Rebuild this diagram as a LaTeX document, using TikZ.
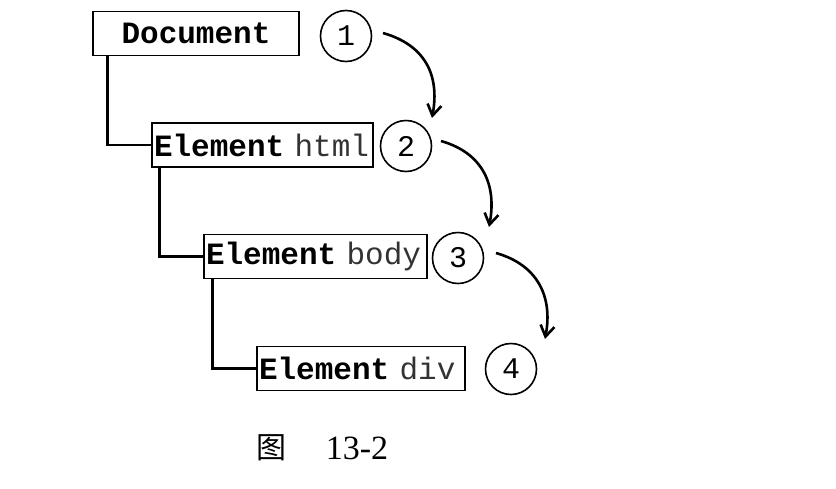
\documentclass[tikz,border=0pt]{standalone}
\usepackage{fontspec}
\setmainfont{Liberation Serif}
\setmonofont{Liberation Mono}
\newfontfamily\cjk{Noto Sans CJK SC}
\usetikzlibrary{arrows.meta}
\begin{document}
\begin{tikzpicture}[x=1pt,y=-1pt,
  elbox/.style={draw,line width=1.8pt,inner xsep=2pt,inner ysep=0pt,minimum height=44pt,align=left,font=\fontsize{31}{34}\selectfont\ttfamily},
  docbox/.style={draw,line width=1.8pt,inner sep=0pt,minimum height=44pt,font=\fontsize{31}{34}\selectfont\ttfamily},
  num/.style={draw,circle,line width=1.6pt,minimum size=51pt,inner sep=0pt,font=\fontsize{30}{34}\selectfont\ttfamily},
  tree/.style={line width=2.8pt},
  flow/.style={line width=2.6pt,-{Straight Barb[length=11pt,width=14pt,line width=2.6pt]}}]
\useasboundingbox (0,0) rectangle (836,488);
\node[docbox,minimum width=206pt] (doc) at (196,33.5) {\textbf{Document}};
\node[elbox,text width=217pt] (html) at (262.5,145) {\textbf{Element} {\color{black!80}html}};
\node[elbox,text width=219pt] (body) at (315.5,256.5) {\textbf{Element} {\color{black!80}body}};
\node[elbox,text width=204pt] (div) at (361,368.5) {\textbf{Element} {\color{black!80}div}};
\node[num] (n1) at (346,36) {1};
\node[num] (n2) at (406,146) {2};
\node[num] (n3) at (458,258) {3};
\node[num] (n4) at (511,369) {4};
\draw[tree] (doc.south west) ++(15,0) |- (html.west);
\draw[tree] (html.south west) ++(8,0) |- (body.west);
\draw[tree] (body.south west) ++(9,0) |- (div.west);
\coordinate (a1s) at (383,33); \coordinate (a1e) at (432,118);
\coordinate (a2s) at (441,141); \coordinate (a2e) at (489,227);
\coordinate (a3s) at (496,253); \coordinate (a3e) at (545,339);
\draw[flow] (a1s) .. controls (425,45) and (440,75) .. (a1e);
\draw[flow] (a2s) .. controls (483,153) and (497,185) .. (a2e);
\draw[flow] (a3s) .. controls (538,265) and (553,297) .. (a3e);
\node[font=\fontsize{30}{34}\selectfont\cjk] (cap1) at (271,448) {图};
\node[font=\fontsize{34}{38}\selectfont] (cap2) at (357,448) {13-2};
\end{tikzpicture}
\end{document}
